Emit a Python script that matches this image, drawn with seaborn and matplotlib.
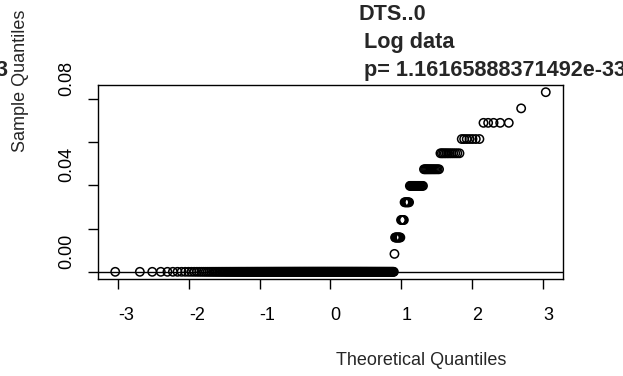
import numpy as np
import pandas as pd
import matplotlib
matplotlib.use("Agg")
import matplotlib.pyplot as plt
import matplotlib.transforms as mtransforms
import seaborn as sns
from statistics import NormalDist

levels = [0.0, 0.0083, 0.0159, 0.0240, 0.0322, 0.0398, 0.0475, 0.0549, 0.0615, 0.0690, 0.0757, 0.0832]
counts = [345, 1, 9, 5, 7, 16, 14, 12, 7, 5, 1, 1]

x_ticks = [-3, -2, -1, 0, 1, 2, 3]
y_ticks = [0.00, 0.02, 0.04, 0.06, 0.08]
y_labels = ["0.00", "", "0.04", "", "0.08"]

title_top = "DTS..0"
title_mid = "Log data"
title_bot = "p= 1.16165888371492e-33"

# qqnorm: sorted sample against normal quantiles (R ppoints, n > 10)
sample = np.sort(np.repeat(levels, counts))
n = len(sample)
probs = (np.arange(1, n + 1) - 0.5) / n
theo = np.array([NormalDist().inv_cdf(p) for p in probs])
df = pd.DataFrame({"theoretical": theo, "sample": sample})

sns.set_style("ticks")
plt.rcParams["font.family"] = ["Liberation Sans", "DejaVu Sans"]

W, H = 623, 376
fig = plt.figure(figsize=(W / 100, H / 100), dpi=100)
ax = fig.add_axes([98 / W, 1 - 279 / H, (563 - 98) / W, (279 - 85) / H])

sns.scatterplot(data=df, x="theoretical", y="sample", ax=ax, marker="o", s=36,
                facecolors="none", edgecolor="black", linewidth=1.1)
ax.axhline(0, color="black", lw=1.0)

# R style 4% padding
xr = theo.max() - theo.min()
yr = sample.max() - sample.min()
ax.set_xlim(theo.min() - 0.04 * xr, theo.max() + 0.04 * xr)
ax.set_ylim(sample.min() - 0.04 * yr, sample.max() + 0.04 * yr)

ax.set_xticks(x_ticks)
ax.set_xticklabels([str(t) for t in x_ticks], ha="left")
ax.set_yticks(y_ticks)
ax.set_yticklabels(y_labels, rotation=90, va="bottom", ha="center")
ax.tick_params(axis="both", direction="out", length=7.5, width=1, color="black",
               labelsize=13, labelcolor="black")
ax.tick_params(axis="x", pad=13)
ax.tick_params(axis="y", pad=15)
# y labels sit a little above their ticks in the original
shift = mtransforms.ScaledTranslation(0, 3 / 100, fig.dpi_scale_trans)
for lab in ax.get_yticklabels():
    lab.set_transform(lab.get_transform() + shift)
for s in ax.spines.values():
    s.set_linewidth(1.0)
    s.set_color("black")
ax.set_xlabel("")
ax.set_ylabel("")

# title and axis labels sit where the original device put them
fig.text(358 / W, 1 - 20 / H, title_top, fontsize=15.6, fontweight="bold", ha="left", va="baseline")
fig.text(364 / W, 1 - 48 / H, title_mid, fontsize=15.6, fontweight="bold", ha="left", va="baseline")
fig.text(364 / W, 1 - 76 / H, title_bot, fontsize=15.6, fontweight="bold", ha="left", va="baseline")
fig.text(-4 / W, 1 - 76 / H, "3", fontsize=15.6, fontweight="bold", ha="left", va="baseline")
fig.text(336 / W, 1 - 365 / H, "Theoretical Quantiles", fontsize=13, ha="left", va="baseline")
fig.text(21 / W, 1 - 152 / H, "Sample Quantiles", fontsize=13, rotation=90, ha="center", va="bottom")

fig.savefig("out.png", dpi=100)
